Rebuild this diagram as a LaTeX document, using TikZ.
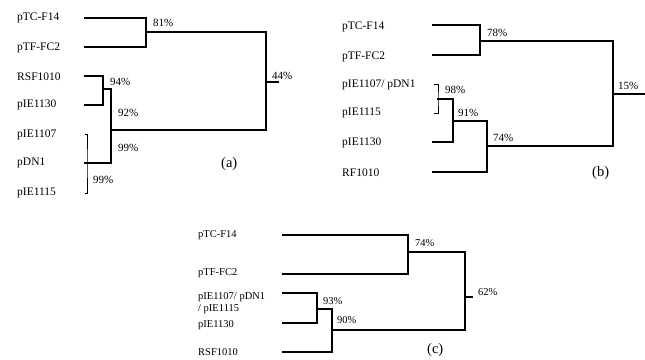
\documentclass[tikz,border=0pt]{standalone}
\usepackage{fontspec}
\setmainfont{Liberation Serif}
\usetikzlibrary{positioning}

\begin{document}
\begin{tikzpicture}[
  x=1pt, y=-1pt,
  branch/.style={line width=1.2pt, line cap=rect},
  brack/.style={line width=0.8pt},
  leaf/.style={anchor=west, inner sep=0pt, font=\fontsize{11.5}{13}\selectfont},
  leafc/.style={anchor=west, inner sep=0pt, font=\fontsize{10.5}{12}\selectfont},
  pct/.style={anchor=west, inner sep=0pt, font=\fontsize{11}{13}\selectfont},
  pctc/.style={anchor=west, inner sep=0pt, font=\fontsize{10.5}{12}\selectfont},
  panel/.style={anchor=west, inner sep=0pt, font=\fontsize{14.5}{16}\selectfont}
]
\useasboundingbox (0,0) rectangle (645,359);

% ---- panel (a)
\node[leaf] (na1) at (17,18) {pTC-F14};
\node[leaf] (na2) at (17,48) {pTF-FC2};
\node[leaf] (na3) at (17,77) {RSF1010};
\node[leaf] (na4) at (17,105) {pIE1130};
\node[leaf] (na5) at (17,135) {pIE1107};
\node[leaf] (na6) at (17,163) {pDN1};
\node[leaf] (na7) at (17,193) {pIE1115};

\coordinate (a1) at (85,18);
\coordinate (a2) at (85,47);
\coordinate (a3) at (85,76);
\coordinate (a4) at (85,105);
\coordinate (a6) at (85,163);
\coordinate (ka1) at (85,134);
\coordinate (ka2) at (85,193);
\coordinate (kam) at (87,163);
\coordinate (ja12) at (146,32);
\coordinate (ja34) at (103,89);
\coordinate (jab) at (111,130);
\coordinate (jar) at (266,82);
\coordinate (sa) at (278,82);

\draw[branch] (a1) -| (ja12);
\draw[branch] (a2) -| (ja12);
\draw[branch] (a3) -| (ja34);
\draw[branch] (a4) -| (ja34);
\draw[brack] (ka1) -| (kam) |- (ka2);
\draw[branch] (ja34) -| (jab);
\draw[branch] (a6) -| (jab);
\draw[branch] (ja12) -| (jar);
\draw[branch] (jab) -| (jar);
\draw[branch] (jar) -- (sa);

\node[pct] (pa1) at (153,23) {81\%};
\node[pct] (pa2) at (272,76) {44\%};
\node[pct] (pa3) at (110,82) {94\%};
\node[pct] (pa4) at (118,113) {92\%};
\node[pct] (pa5) at (118,148) {99\%};
\node[pct] (pa6) at (93,180) {99\%};
\node[panel] (la) at (221,164) {(a)};

% ---- panel (b)
\node[leaf] (nb1) at (342,27) {pTC-F14};
\node[leaf] (nb2) at (342,57) {pTF-FC2};
\node[leaf] (nb3) at (342,85) {pIE1107/ pDN1};
\node[leaf] (nb4) at (342,113) {pIE1115};
\node[leaf] (nb5) at (342,143) {pIE1130};
\node[leaf] (nb6) at (342,173) {RF1010};

\coordinate (b1) at (433,25);
\coordinate (b2) at (433,55);
\coordinate (b5) at (433,142);
\coordinate (b6) at (433,172);
\coordinate (kb1) at (434,84);
\coordinate (kb2) at (434,113);
\coordinate (jb98) at (438,99);
\coordinate (jb91) at (453,121);
\coordinate (jb74) at (487,146);
\coordinate (jb78) at (480,41);
\coordinate (jbr) at (613,94);
\coordinate (sb) at (645,94);

\draw[branch] (b1) -| (jb78);
\draw[branch] (b2) -| (jb78);
\draw[brack] (kb1) -| (jb98) |- (kb2);
\draw[branch] (jb98) -| (jb91);
\draw[branch] (b5) -| (jb91);
\draw[branch] (jb91) -| (jb74);
\draw[branch] (b6) -| (jb74);
\draw[branch] (jb78) -| (jbr);
\draw[branch] (jb74) -| (jbr);
\draw[branch] (jbr) -- (sb);

\node[pct] (pb1) at (487,33) {78\%};
\node[pct] (pb2) at (618,86) {15\%};
\node[pct] (pb3) at (445,90) {98\%};
\node[pct] (pb4) at (458,113) {91\%};
\node[pct] (pb5) at (493,138) {74\%};
\node[panel] (lb) at (592,173) {(b)};

% ---- panel (c)
\node[leafc] (nc1) at (198,235) {pTC-F14};
\node[leafc] (nc2) at (198,273) {pTF-FC2};
\node[leafc] (nc3) at (198,297) {pIE1107/ pDN1};
\node[leafc] (nc3b) at (198,309) {/ pIE1115};
\node[leafc] (nc4) at (198,325) {pIE1130};
\node[leafc] (nc5) at (198,352) {RSF1010};

\coordinate (c1) at (283,235);
\coordinate (c2) at (283,274);
\coordinate (c3) at (283,293);
\coordinate (c4) at (283,323);
\coordinate (c5) at (283,352);
\coordinate (jc74) at (408,252);
\coordinate (jc93) at (317,309);
\coordinate (jc90) at (332,330);
\coordinate (jcr) at (465,297);
\coordinate (sc) at (472,297);

\draw[branch] (c1) -| (jc74);
\draw[branch] (c2) -| (jc74);
\draw[branch] (c3) -| (jc93);
\draw[branch] (c4) -| (jc93);
\draw[branch] (jc93) -| (jc90);
\draw[branch] (c5) -| (jc90);
\draw[branch] (jc74) -| (jcr);
\draw[branch] (jc90) -| (jcr);
\draw[branch] (jcr) -- (sc);

\node[pctc] (pc1) at (415,243) {74\%};
\node[pctc] (pc2) at (478,292) {62\%};
\node[pctc] (pc3) at (323,301) {93\%};
\node[pctc] (pc4) at (337,320) {90\%};
\node[panel] (lc) at (427,350) {(c)};
\end{tikzpicture}
\end{document}
